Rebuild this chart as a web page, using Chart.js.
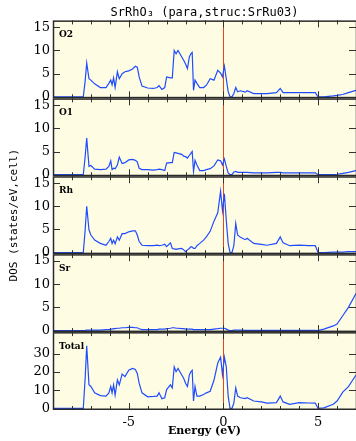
<!DOCTYPE html>
<html>
<head>
<meta charset="utf-8">
<script src="https://cdn.jsdelivr.net/npm/chart.js"></script>
<style>
  body { margin: 0; background: #fff; }
  canvas { display: block; }
</style>
</head>
<body>
<canvas id="dosChart" width="356" height="441"></canvas>

<script>

// energy grid (eV), shared by every panel
const energy = [-9, -7.4, -7.3, -7.22, -7.1, -7.0, -6.8, -6.5, -6.2, -6.05,
  -5.95, -5.88, -5.8, -5.72, -5.6, -5.5, -5.35, -5.2, -5.0, -4.8,
  -4.65, -4.55, -4.45, -4.3, -4.0, -3.7, -3.5, -3.4, -3.25, -3.1,
  -3.0, -2.8, -2.7, -2.6, -2.5, -2.4, -2.2, -2.1, -2.0, -1.9,
  -1.8, -1.72, -1.65, -1.58, -1.5, -1.4, -1.25, -1.05, -0.9, -0.7,
  -0.5, -0.3, -0.15, -0.05, 0.05, 0.15, 0.25, 0.35, 0.45, 0.55,
  0.65, 0.75, 0.9, 1.15, 1.25, 1.6, 2.0, 2.3, 2.8, 3.0,
  3.15, 3.5, 4.0, 4.5, 4.85, 5.0, 5.3, 5.8, 6.0, 6.3,
  6.6, 7.0];

const dosO2 = [0, 0, 3.5, 7.3, 3.9, 3.6, 2.8, 2.0, 2.0, 2.9,
  3.6, 2.6, 4.1, 2.0, 5.4, 3.9, 5.0, 5.4, 5.6, 6.0,
  6.6, 6.4, 4.3, 2.3, 1.9, 1.8, 2.0, 2.4, 1.6, 2.0,
  4.3, 4.1, 4.1, 10.0, 9.3, 10.0, 8.6, 7.9, 7.1, 6.1,
  8.6, 9.3, 9.6, 1.4, 3.6, 2.9, 2.0, 2.0, 2.5, 3.9,
  3.6, 5.7, 5.1, 4.3, 6.6, 3.9, 1.1, 0, 0, 0.7,
  2.0, 1.1, 1.3, 1.0, 1.3, 0.7, 0.7, 0.7, 0.9, 1.8,
  0.9, 0.9, 0.9, 0.9, 0.9, 0, 0, 0.2, 0.3, 0.5,
  0.9, 1.4];

const dosO1 = [0, 0, 4, 7.9, 1.8, 2.0, 1.2, 1.1, 1.2, 1.8,
  3.0, 1.1, 1.4, 1.3, 2.1, 3.8, 2.4, 2.6, 3.2, 3.3,
  3.1, 2.8, 1.4, 1.1, 1.1, 1.0, 1.1, 1.2, 1.1, 0.9,
  2.5, 2.6, 2.6, 4.8, 4.7, 4.6, 4.4, 4.0, 3.9, 3.6,
  4.2, 4.6, 5.0, 0.7, 3.1, 2.1, 0.9, 0.9, 1.1, 1.3,
  1.9, 3.2, 3.0, 2.1, 3.4, 1.8, 0.4, 0, 0, 0.6,
  0.7, 0.5, 0.5, 0.5, 0.5, 0.4, 0.4, 0.4, 0.5, 0.5,
  0.4, 0.4, 0.4, 0.4, 0.4, 0, 0, 0, 0.1, 0.3,
  0.5, 0.9];

const dosRh = [0, 0, 5, 10.0, 4.9, 3.8, 2.7, 2.0, 1.6, 2.4,
  3.1, 2.0, 2.7, 1.9, 3.4, 2.7, 4.1, 4.1, 4.5, 4.7,
  4.7, 3.8, 2.4, 1.6, 1.5, 1.5, 1.6, 1.5, 1.6, 1.8,
  1.3, 2.1, 0.9, 0.8, 0.7, 0.8, 0.9, 0.6, 0.2, 0.6,
  0.9, 1.3, 1.2, 0.9, 0.9, 1.5, 2.0, 2.7, 3.4, 4.6,
  6.8, 8.6, 13.3, 9.0, 12.7, 7.0, 2.0, 0, 0, 1.5,
  6.3, 3.8, 3.3, 2.8, 3.1, 2.0, 1.8, 1.6, 2.0, 3.4,
  2.1, 1.5, 1.6, 1.5, 1.5, 0, 0, 0.1, 0.1, 0.1,
  0.2, 0.2];

const dosSr = [0, 0, 0.05, 0.1, 0.1, 0.1, 0.1, 0.1, 0.2, 0.2,
  0.3, 0.3, 0.4, 0.4, 0.5, 0.5, 0.6, 0.6, 0.7, 0.7,
  0.6, 0.6, 0.4, 0.2, 0.2, 0.2, 0.2, 0.3, 0.3, 0.3,
  0.4, 0.5, 0.6, 0.6, 0.5, 0.5, 0.4, 0.4, 0.3, 0.3,
  0.3, 0.3, 0.3, 0.2, 0.2, 0.2, 0.2, 0.2, 0.2, 0.2,
  0.3, 0.4, 0.5, 0.5, 0.5, 0.3, 0.1, 0, 0, 0.1,
  0.1, 0.1, 0.1, 0.05, 0.05, 0.05, 0.05, 0.05, 0.05, 0.05,
  0.05, 0.05, 0.05, 0.05, 0.05, 0, 0.3, 1.0, 1.4, 3.2,
  5.0, 8.0];

const dosTotal = [0, 0, 17, 34.5, 13, 12.1, 8.6, 7.1, 6.8, 8.6,
  12.1, 8.6, 13, 7.3, 15.7, 13, 18.9, 17.5, 21, 22,
  21.4, 19.3, 13.9, 8.6, 6.4, 6.6, 6.8, 8.6, 5.4, 5.9,
  10.4, 13, 11.3, 22.9, 20.2, 22, 18.4, 16.6, 13.9, 12.1,
  18.4, 20.2, 21, 4.1, 12.1, 6.8, 6.8, 7.7, 8.6, 9.5,
  15.5, 25, 28.2, 18.5, 28.2, 22.9, 6.8, 0, 0, 3,
  11.3, 6.8, 5.9, 5.4, 5.9, 4.1, 3.6, 2.9, 3.2, 6.8,
  3.6, 2.3, 3.2, 3.0, 2.9, 0, 0.3, 2.3, 4.1, 9.0,
  12, 18.4];

// panels from top to bottom
const panelNames = ['O2', 'O1', 'Rh', 'Sr', 'Total'];
const panelData = [dosO2, dosO1, dosRh, dosSr, dosTotal];
const panelMax = [16.5, 16.5, 16.5, 16.5, 42];
const panelTicks = [
  [0, 5, 10, 15],
  [0, 5, 10, 15],
  [0, 5, 10, 15],
  [0, 5, 10, 15],
  [0, 10, 20, 30]
];
const energyTicks = [-5, 0, 5];

const serif = 'DejaVu Serif';
const mono = 'DejaVu Sans Mono';

// background, Fermi line, frames, inward ticks and panel names
const panelFrame = {
  id: 'panelFrame',
  beforeDatasetsDraw(chart) {
    const {ctx, chartArea: a, scales} = chart;
    ctx.save();
    ctx.fillStyle = '#fffce4';
    ctx.fillRect(a.left, a.top, a.right - a.left, a.bottom - a.top);
    const x0 = Math.round(scales.x.getPixelForValue(0)) + 0.5;
    ctx.strokeStyle = '#e2481e';
    ctx.lineWidth = 1;
    ctx.beginPath();
    ctx.moveTo(x0, a.top);
    ctx.lineTo(x0, a.bottom);
    ctx.stroke();
    ctx.restore();
  },
  afterDatasetsDraw(chart) {
    const {ctx, scales} = chart;
    const xs = scales.x;
    ctx.save();
    panelNames.forEach((name, i) => {
      const ys = scales['y' + i];
      const top = ys.top, bottom = ys.bottom, left = xs.left, right = xs.right;
      ctx.strokeStyle = '#333';
      ctx.lineWidth = 1;
      ctx.beginPath();
      for (let e = Math.ceil(xs.min) + 1; e < xs.max; e++) {
        const px = Math.round(xs.getPixelForValue(e)) + 0.5;
        const len = e % 5 === 0 ? 7 : 4;
        ctx.moveTo(px, top); ctx.lineTo(px, top + len);
        ctx.moveTo(px, bottom); ctx.lineTo(px, bottom - len);
      }
      ys.ticks.forEach(t => {
        if (t.value === 0) return;
        const py = Math.round(ys.getPixelForValue(t.value)) + 0.5;
        ctx.moveTo(left, py); ctx.lineTo(left + 7, py);
        ctx.moveTo(right, py); ctx.lineTo(right - 7, py);
      });
      ctx.stroke();

      ctx.strokeStyle = '#2a2a2a';
      ctx.lineWidth = 1.5;
      ctx.strokeRect(left + 0.5, top + 0.75, right - left, bottom - top - 1.5);

      ctx.fillStyle = '#000';
      ctx.font = 'bold 9px "' + serif + '"';
      ctx.textBaseline = 'top';
      ctx.textAlign = 'left';
      ctx.fillText(name, left + 6, top + 10);
    });
    ctx.restore();
  }
};

const scales = {
  x: {
    type: 'linear',
    min: -9,
    max: 7,
    afterBuildTicks: s => { s.ticks = energyTicks.map(v => ({value: v})); },
    afterFit: s => { s.height = 31; },
    grid: {display: false, drawTicks: false},
    border: {display: false},
    ticks: {color: '#000', padding: 5, font: {family: serif, size: 13}},
    title: {
      display: true,
      text: 'Energy (eV)',
      color: '#000',
      font: {family: serif, size: 11, weight: 'bold'},
      padding: {top: 0, bottom: 3}
    }
  }
};

// stacked y axes: defined bottom panel first, top panel last
for (let i = panelNames.length - 1; i >= 0; i--) {
  scales['y' + i] = {
    type: 'linear',
    position: 'left',
    stack: 'dos',
    stackWeight: 1,
    min: -0.02 * panelMax[i],
    max: panelMax[i],
    afterBuildTicks: s => { s.ticks = panelTicks[i].map(v => ({value: v})); },
    afterFit: s => { s.width = 53; },
    grid: {display: false, drawTicks: false},
    border: {display: false},
    ticks: {color: '#000', padding: 3, autoSkip: false, font: {family: serif, size: 13}},
    title: {
      display: i === 2,
      text: 'DOS (states/eV,cell)',
      color: '#000',
      font: {family: mono, size: 11},
      padding: {top: 8, bottom: 0}
    }
  };
}

new Chart(document.getElementById('dosChart'), {
  type: 'line',
  data: {
    datasets: panelData.map((vals, i) => ({
      label: panelNames[i],
      yAxisID: 'y' + i,
      data: energy.map((e, k) => ({x: e, y: vals[k]})),
      borderColor: '#1f4cff',
      borderWidth: 1.2,
      pointRadius: 0,
      tension: 0,
      fill: false
    }))
  },
  options: {
    responsive: false,
    animation: false,
    layout: {padding: 0},
    scales: scales,
    plugins: {
      legend: {display: false},
      tooltip: {enabled: false},
      title: {
        display: true,
        fullSize: false,
        text: 'SrRhO\u2083 (para,struc:SrRu03)',
        color: '#000',
        font: {family: mono, size: 12, weight: 'normal'},
        padding: {top: 6, bottom: 0}
      }
    }
  },
  plugins: [panelFrame]
});

</script>
</body>
</html>
